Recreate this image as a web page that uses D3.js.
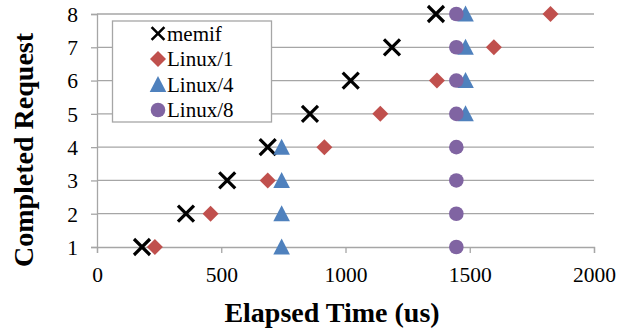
<!DOCTYPE html>
<html>
<head>
<meta charset="utf-8">
<script src="https://cdn.jsdelivr.net/npm/d3@7"></script>
<style>
  body { margin: 0; background: #fff; }
</style>
</head>
<body>
<div id="chart"></div>
<script>
const width = 632;
const height = 329;

// data
const requests = [1, 2, 3, 4, 5, 6, 7, 8];
const memif = [181, 358, 524, 687, 857, 1021, 1187, 1364];
const linux1 = [233, 457, 687, 915, 1140, 1368, 1597, 1825];
const linux4 = [743, 743, 743, 743, 1483, 1483, 1483, 1483];
const linux8 = [1446, 1446, 1446, 1446, 1446, 1446, 1446, 1446];
const seriesNames = ["memif", "Linux/1", "Linux/4", "Linux/8"];
const xTicks = [0, 500, 1000, 1500, 2000];

const series = [
  { name: seriesNames[0], values: memif, shape: "cross", color: "#000000" },
  { name: seriesNames[1], values: linux1, shape: "diamond", color: "#C0504D" },
  { name: seriesNames[2], values: linux4, shape: "triangle", color: "#4F81BD" },
  { name: seriesNames[3], values: linux8, shape: "circle", color: "#8064A2" }
];

const margin = { top: 14, right: 38, bottom: 82, left: 97 };
const serif = "Liberation Serif";

const svg = d3.select("#chart")
  .append("svg")
  .attr("width", width)
  .attr("height", height)
  .attr("font-family", serif);

const x = d3.scaleLinear()
  .domain([0, 2000])
  .range([margin.left, width - margin.right]);

const y = d3.scaleLinear()
  .domain([1, 8])
  .range([height - margin.bottom, margin.top]);

const gridColor = "#a6a6a6";

// gridlines
svg.append("g")
  .selectAll("line")
  .data(requests.filter(d => d > 1))
  .enter()
  .append("line")
  .attr("x1", x(0))
  .attr("x2", x(2000))
  .attr("y1", d => y(d))
  .attr("y2", d => y(d))
  .attr("stroke", gridColor)
  .attr("stroke-width", 1.3);

// x axis
const xAxis = svg.append("g")
  .attr("transform", `translate(0,${y(1)})`)
  .call(d3.axisBottom(x).tickValues(xTicks).tickSize(6).tickPadding(14).tickFormat(d3.format("d")));

// y axis
const yAxis = svg.append("g")
  .attr("transform", `translate(${x(0)},0)`)
  .call(d3.axisLeft(y).tickValues(requests).tickSize(6).tickPadding(13).tickFormat(d3.format("d")));

[xAxis, yAxis].forEach(g => {
  g.attr("font-family", serif).attr("font-size", 21.5);
  g.select(".domain").attr("stroke", gridColor).attr("stroke-width", 1.3);
  g.selectAll(".tick line").attr("stroke", gridColor).attr("stroke-width", 1.3);
  g.selectAll(".tick text").attr("fill", "#000").attr("font-family", serif);
});
yAxis.selectAll(".tick text").attr("dy", "0.34em");

// axis titles
svg.append("text")
  .attr("x", 332)
  .attr("y", 322)
  .attr("text-anchor", "middle")
  .attr("font-family", serif)
  .attr("font-size", 28)
  .attr("font-weight", "bold")
  .text("Elapsed Time (us)");

svg.append("text")
  .attr("transform", "translate(33,150) rotate(-90)")
  .attr("text-anchor", "middle")
  .attr("font-family", serif)
  .attr("font-size", 28)
  .attr("font-weight", "bold")
  .text("Completed Request");

// marker drawing
function drawMarker(g, shape, color) {
  if (shape === "cross") {
    g.append("path")
      .attr("d", "M-8,-8L8,8M-8,8L8,-8")
      .attr("stroke", color)
      .attr("stroke-width", 3.2)
      .attr("fill", "none");
  } else if (shape === "diamond") {
    g.append("path")
      .attr("d", "M0,-8L8,0L0,8L-8,0Z")
      .attr("fill", color);
  } else if (shape === "triangle") {
    g.append("path")
      .attr("d", "M0,-8.5L8.3,7.5L-8.3,7.5Z")
      .attr("fill", color);
  } else {
    g.append("circle")
      .attr("r", 7.3)
      .attr("fill", color);
  }
}

series.forEach(s => {
  const g = svg.append("g");
  g.selectAll("g")
    .data(s.values.map((v, i) => ({ t: v, n: requests[i] })))
    .enter()
    .append("g")
    .attr("transform", d => `translate(${x(d.t)},${y(d.n)})`)
    .each(function() { drawMarker(d3.select(this), s.shape, s.color); });
});

// legend
const legend = svg.append("g");
legend.append("rect")
  .attr("x", 112.5)
  .attr("y", 21)
  .attr("width", 159)
  .attr("height", 101)
  .attr("fill", "#fff")
  .attr("stroke", gridColor)
  .attr("stroke-width", 1.3);

series.forEach((s, i) => {
  const cy = 33.5 + i * 25.5;
  const m = legend.append("g").attr("transform", `translate(158,${cy})`);
  drawMarker(m, s.shape, s.color);
  if (s.shape === "cross") m.attr("transform", `translate(158,${cy}) scale(0.8)`);
  legend.append("text")
    .attr("x", 167)
    .attr("y", cy)
    .attr("dy", "0.34em")
    .attr("font-family", serif)
    .attr("font-size", 21)
    .text(s.name);
});
</script>
</body>
</html>
